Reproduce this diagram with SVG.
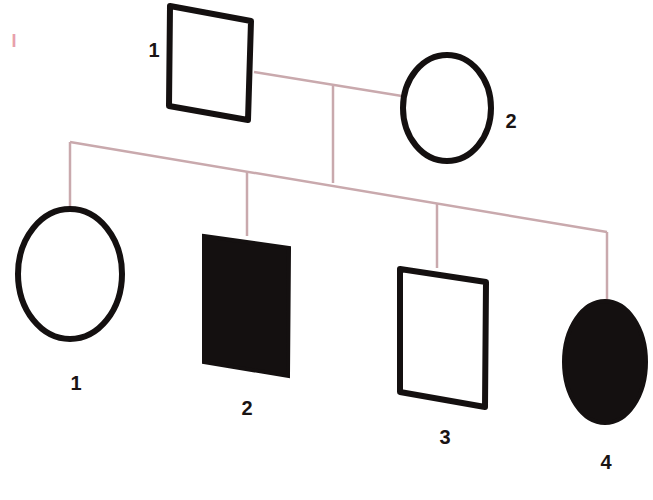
<svg xmlns="http://www.w3.org/2000/svg" width="653" height="500" viewBox="0 0 653 500">
<style>
.sym{fill:#fff;stroke:#141010;stroke-width:6;stroke-linejoin:round}
.aff{fill:#141010;stroke:#141010;stroke-width:4}
.ln{fill:none;stroke:#c9a9ad;stroke-width:2.5}
.lb{font-family:"Liberation Sans",Arial,sans-serif;font-weight:bold;font-size:20px;fill:#1a1414;text-anchor:middle}
</style>
<rect width="653" height="500" fill="#fff"/>
<text x="14" y="47" class="lb" style="fill:#e8a0ac;font-size:18px">I</text>
<g id="connectors">
<path class="ln" d="M254,72 L402,96"/>
<path class="ln" d="M333,86 L333,183"/>
<path class="ln" d="M70,142 L607,232"/>
<path class="ln" d="M70,142 L70,208"/>
<path class="ln" d="M247,171 L247,236"/>
<path class="ln" d="M437,203 L437,268"/>
<path class="ln" d="M607,232 L607,300"/>
</g>
<g id="I-1">
<polygon class="sym" points="170,6 251,21 248,120 169,106"/>
<text x="154" y="57" class="lb">1</text>
</g>
<g id="I-2">
<ellipse class="sym" cx="447" cy="108" rx="44" ry="53"/>
<text x="511" y="128" class="lb">2</text>
</g>
<g id="II-1">
<ellipse class="sym" cx="70" cy="274" rx="52" ry="65"/>
<text x="76" y="390" class="lb">1</text>
</g>
<g id="II-2">
<polygon class="aff" points="204,236 289,248 288,376 204,362"/>
<text x="247" y="415" class="lb">2</text>
</g>
<g id="II-3">
<polygon class="sym" points="400,269 486,282 485,407 400,392"/>
<text x="445" y="444" class="lb">3</text>
</g>
<g id="II-4">
<ellipse class="aff" cx="605" cy="362" rx="41" ry="61"/>
<text x="606" y="469" class="lb">4</text>
</g>
</svg>
